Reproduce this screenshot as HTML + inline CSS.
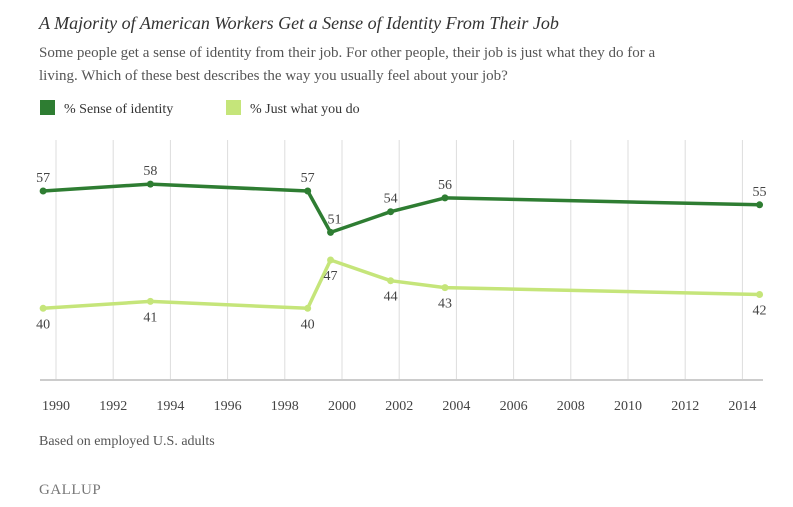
<!DOCTYPE html>
<html><head><meta charset="utf-8"><style>
body{margin:0;background:#fff;font-family:"Liberation Serif",serif;}
svg{display:block}
text{font-family:"Liberation Serif",serif;}
</style></head><body>
<svg width="793" height="507">
<text x="39" y="29" font-size="18" font-style="italic" fill="#333">A Majority of American Workers Get a Sense of Identity From Their Job</text>
<text x="39" y="57" font-size="15" fill="#555">Some people get a sense of identity from their job. For other people, their job is just what they do for a</text>
<text x="39" y="80" font-size="15" fill="#555">living. Which of these best describes the way you usually feel about your job?</text>
<g>
<rect x="40" y="100" width="15" height="15" fill="#2e7d32"/>
<text x="64" y="113" font-size="14" fill="#333">% Sense of identity</text>
<rect x="226" y="100" width="15" height="15" fill="#c5e57a"/>
<text x="250" y="113" font-size="14" fill="#333">% Just what you do</text>
</g>
<g id="grid"></g>
<line x1="40" y1="380" x2="763" y2="380" stroke="#ccc" stroke-width="2"/>
<g id="ticks"></g>
<g id="series"></g>
<text x="39" y="445" font-size="14" fill="#555">Based on employed U.S. adults</text>
<text x="39" y="494" font-size="15" fill="#777" letter-spacing="0.5">GALLUP</text>
</svg>
<script>
const years=[1989.55,1993.3,1998.8,1999.6,2001.7,2003.6,2014.6];
const identity=[57,58,57,51,54,56,55];
const justDo=[40,41,40,47,44,43,42];
const tickYears=[1990,1992,1994,1996,1998,2000,2002,2004,2006,2008,2010,2012,2014];
const NS="http://www.w3.org/2000/svg";
function xs(y){return 56+(y-1990)*28.6;}
function ys(v){return 191+(57-v)*6.9;}
function mk(tag,attrs,parent){const e=document.createElementNS(NS,tag);for(const k in attrs)e.setAttribute(k,attrs[k]);parent.appendChild(e);return e;}
const grid=document.getElementById('grid'),ticks=document.getElementById('ticks'),ser=document.getElementById('series');
tickYears.forEach(t=>{
 const l=mk('line',{x1:xs(t),x2:xs(t),y1:140,y2:380,stroke:'#ddd','stroke-width':1},grid);
 
 
 const tx=mk('text',{x:xs(t),y:410,'text-anchor':'middle','font-size':14,fill:'#444'},ticks);
 tx.textContent=t;
 
 
});
function draw(vals,color,name,above){
 const pts=vals.map((v,i)=>xs(years[i])+','+ys(v)).join(' ');
 const pl=mk('polyline',{points:pts,fill:'none',stroke:color,'stroke-width':3.5,'stroke-linejoin':'round'},ser);
 
 
 vals.forEach((v,i)=>{
  const c=mk('circle',{cx:xs(years[i]),cy:ys(v),r:3.5,fill:color},ser);
  
  
  const dx=(above&&i===3)?4:0;
  const t=mk('text',{x:xs(years[i])+dx,y:above?ys(v)-9:ys(v)+20,'text-anchor':'middle','font-size':14,fill:'#444'},ser);
  t.textContent=v;
  
  
 });
}
draw(identity,'#2e7d32','identity',true);
draw(justDo,'#c5e57a','just-what-you-do',false);
</script>
</body></html>
